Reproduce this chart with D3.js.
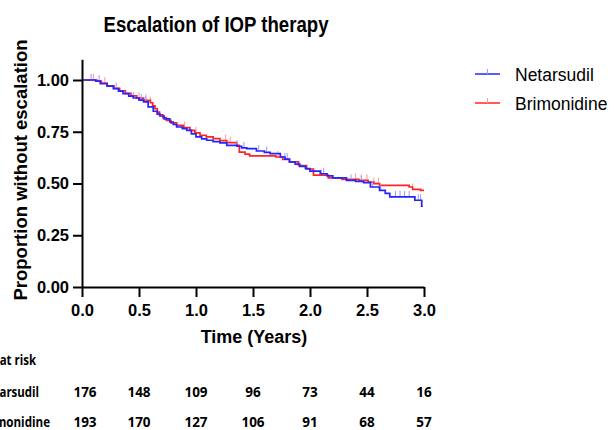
<!DOCTYPE html>
<html lang="en">
<head>
<meta charset="utf-8">
<title>Escalation of IOP therapy</title>
<script src="https://d3js.org/d3.v7.min.js"></script>
<style>
  body { margin: 0; background: #fff; }
  svg text { font-family: "Liberation Sans", Arial, sans-serif; fill: #000; }
  .axis text { font-size: 16.5px; font-weight: bold; }
  .risk { font-family: "Open Sans", sans-serif; font-size: 13.5px; font-weight: bold; }
</style>
</head>
<body>
<script>
// Kaplan-Meier steps [time in years, proportion]
const netarsudil = [[0,1],[0.12,0.995],[0.16,0.982],[0.22,0.97],[0.275,0.958],[0.32,0.946],[0.36,0.934],[0.41,0.922],[0.45,0.913],[0.50,0.903],[0.54,0.894],[0.58,0.87],[0.625,0.849],[0.66,0.835],[0.684,0.826],[0.72,0.812],[0.77,0.797],[0.80,0.785],[0.83,0.773],[0.88,0.765],[0.92,0.757],[0.96,0.74],[1.0,0.725],[1.05,0.716],[1.094,0.709],[1.15,0.702],[1.21,0.696],[1.27,0.684],[1.36,0.68],[1.40,0.672],[1.445,0.668],[1.53,0.657],[1.6,0.65],[1.65,0.644],[1.74,0.628],[1.78,0.618],[1.82,0.604],[1.87,0.594],[1.91,0.583],[1.96,0.572],[2.0,0.56],[2.09,0.547],[2.15,0.537],[2.2,0.527],[2.32,0.515],[2.4,0.51],[2.47,0.504],[2.53,0.483],[2.61,0.467],[2.66,0.452],[2.70,0.435],[2.92,0.419],[2.98,0.39],[2.99,0.39]];
const brimonidine = [[0,1],[0.13,0.995],[0.17,0.985],[0.22,0.972],[0.28,0.96],[0.33,0.948],[0.38,0.935],[0.43,0.923],[0.48,0.912],[0.54,0.902],[0.60,0.89],[0.62,0.875],[0.64,0.861],[0.66,0.845],[0.68,0.832],[0.71,0.818],[0.74,0.805],[0.78,0.793],[0.83,0.781],[0.89,0.77],[0.947,0.757],[0.99,0.745],[1.035,0.733],[1.09,0.725],[1.15,0.717],[1.21,0.707],[1.27,0.697],[1.357,0.684],[1.38,0.652],[1.43,0.642],[1.47,0.633],[1.70,0.628],[1.76,0.616],[1.82,0.604],[1.9,0.587],[1.97,0.57],[2.03,0.54],[2.16,0.527],[2.28,0.52],[2.43,0.515],[2.51,0.507],[2.56,0.499],[2.61,0.491],[2.87,0.483],[2.90,0.472],[2.97,0.467],[3.0,0.467]];

// censored observations (times)
const netarsudilCensor = [0.08,0.15,0.3,0.45,0.52,0.56,1.36,1.42,1.55,1.62,1.78,1.8,2.12,2.36,2.45,2.55,2.62,2.75,2.79,2.83,2.87,2.95,2.97];
const brimonidineCensor = [0.1,0.2,0.5,0.56,0.6,0.9,1.0,1.26,1.3,1.72,2.1,2.4,2.45,2.5,2.56,2.6,2.9];

const xTicks = [0, 0.5, 1, 1.5, 2, 2.5, 3];
const yTicks = [0, 0.25, 0.5, 0.75, 1];
const atRiskNetarsudil = [176, 148, 109, 96, 73, 44, 16];
const atRiskBrimonidine = [193, 170, 127, 106, 91, 68, 57];

const series = [
  { name: "Netarsudil", steps: netarsudil, censor: netarsudilCensor, color: "#2424ff", light: "#9a9aff" },
  { name: "Brimonidine", steps: brimonidine, censor: brimonidineCensor, color: "#ff2424", light: "#ff9a9a" }
];

const width = 614, height = 430;
const svg = d3.select("body").append("svg").attr("width", width).attr("height", height);

const x = d3.scaleLinear().domain([0, 3]).range([82, 424]);
const y = d3.scaleLinear().domain([0, 1.1]).range([287, 59.3]);

// survival value at time t
function valueAt(steps, t) {
  let v = steps[0][1];
  for (const s of steps) { if (s[0] <= t) v = s[1]; }
  return v;
}

const line = d3.line().x(d => x(d[0])).y(d => y(d[1])).curve(d3.curveStepAfter);

// curves, red under blue
series.slice().reverse().forEach(s => {
  svg.append("g").selectAll("line")
    .data(s.censor).join("line")
    .attr("x1", d => x(d)).attr("x2", d => x(d))
    .attr("y1", d => y(valueAt(s.steps, d)))
    .attr("y2", d => y(valueAt(s.steps, d)) - 6)
    .attr("stroke", s.light).attr("stroke-width", 1);
  svg.append("path").datum(s.steps)
    .attr("d", line).attr("fill", "none")
    .attr("stroke", s.color).attr("stroke-width", 1.7);
});

// axes
svg.append("g").attr("class", "axis").attr("transform", "translate(0,287)")
  .call(d3.axisBottom(x).tickValues(xTicks).tickFormat(d3.format(".1f")).tickSize(10).tickSizeOuter(0).tickPadding(7));
svg.append("g").attr("class", "axis").attr("transform", "translate(82,0)")
  .call(d3.axisLeft(y).tickValues(yTicks).tickFormat(d3.format(".2f")).tickSize(9).tickSizeOuter(0).tickPadding(4));
svg.selectAll(".axis path, .axis line").attr("stroke", "#000").attr("stroke-width", 2);
svg.selectAll(".axis text").attr("fill", "#000");

// titles
svg.append("text").attr("x", 216).attr("y", 32).attr("text-anchor", "middle")
  .attr("font-size", 22).attr("font-weight", "bold")
  .attr("textLength", 225).attr("lengthAdjust", "spacingAndGlyphs")
  .text("Escalation of IOP therapy");
svg.append("text").attr("x", 254).attr("y", 343).attr("text-anchor", "middle")
  .attr("font-size", 18).attr("font-weight", "bold").text("Time (Years)");
svg.append("text").attr("transform", "translate(27,170) rotate(-90)").attr("text-anchor", "middle")
  .attr("font-size", 18.5).attr("font-weight", "bold").text("Proportion without escalation");

// legend
const legend = svg.append("g").selectAll("g").data(series).join("g")
  .attr("transform", (d, i) => `translate(475,${74 + i * 29})`);
legend.append("line").attr("x1", 0).attr("x2", 25).attr("stroke", d => d.color).attr("stroke-width", 1.5);
legend.append("line").attr("x1", 12.5).attr("x2", 12.5).attr("y1", 0).attr("y2", -5)
  .attr("stroke", d => d.light).attr("stroke-width", 1);
legend.append("text").attr("x", 40).attr("y", 7).attr("font-size", 17.5).text(d => d.name);

// number at risk table (left edge clipped as in the source figure)
const rows = [
  { label: "Number at risk", values: [], y: 365, start: -50.5, len: 86.5 },
  { label: "Netarsudil", values: atRiskNetarsudil, y: 397, start: -21.5, len: 60.5 },
  { label: "Brimonidine", values: atRiskBrimonidine, y: 427, start: -21.7, len: 71.7 }
];
rows.forEach(r => {
  svg.append("text").attr("class", "risk").attr("x", r.start).attr("y", r.y)
    .attr("textLength", r.len).attr("lengthAdjust", "spacingAndGlyphs").text(r.label);
  svg.append("g").selectAll("text").data(r.values).join("text")
    .attr("class", "risk").attr("text-anchor", "middle")
    .attr("x", (d, i) => x(xTicks[i]) + (i === 0 ? 3 : 0)).attr("y", r.y)
    .text(d => d);
});
</script>
</body>
</html>
